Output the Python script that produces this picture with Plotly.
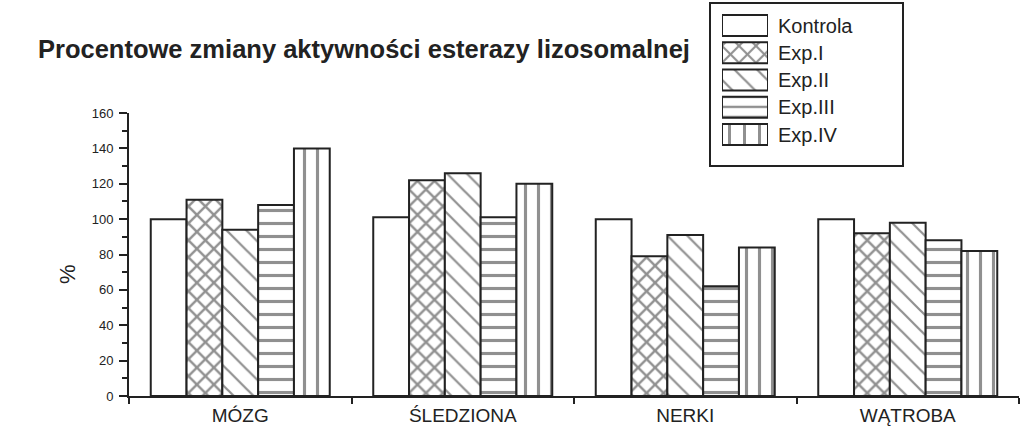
import plotly.graph_objects as go

W, H = 1023, 444

categories = ["MÓZG", "ŚLEDZIONA", "NERKI", "WĄTROBA"]
series_names = ["Kontrola", "Exp.I", "Exp.II", "Exp.III", "Exp.IV"]
kontrola = [100, 101, 100, 100]
exp_i = [111, 122, 79, 92]
exp_ii = [94, 126, 91, 98]
exp_iii = [108, 101, 62, 88]
exp_iv = [140, 120, 84, 82]
y_tick_vals = [0, 20, 40, 60, 80, 100, 120, 140, 160]

title_text = "Procentowe zmiany aktywności esterazy lizosomalnej"
y_label = "%"

values = [kontrola, exp_i, exp_ii, exp_iii, exp_iv]
patterns = ["", "x", "\\", "-", "|"]
pat_sizes = [8, 12, 14, 13, 13]
pat_solid = [0.1, 0.36, 0.16, 0.24, 0.24]
INK = "#222222"
FONT = "Liberation Sans, Arial, sans-serif"


def px(x):
    return x / W


def py(y):
    return 1 - y / H


fig = go.Figure()
for name, vals, pat, ps, so in zip(series_names, values, patterns, pat_sizes, pat_solid):
    fig.add_trace(go.Bar(
        x=categories, y=vals, name=name,
        marker=dict(color="white", line=dict(color=INK, width=2),
                    pattern=dict(shape=pat, fgcolor=INK, bgcolor="white",
                                 size=ps, solidity=so)),
        showlegend=False,
    ))

# custom legend swatches
fig.add_trace(go.Bar(
    x=[1] * len(series_names), y=series_names, orientation="h",
    xaxis="x2", yaxis="y2", width=0.77, showlegend=False,
    marker=dict(color="white", line=dict(color=INK, width=2),
                pattern=dict(shape=patterns, fgcolor=INK, bgcolor="white",
                             size=[8, 12, 16, 10, 15],
                             solidity=[0.1, 0.32, 0.14, 0.24, 0.2])),
))

fig.update_layout(
    width=W, height=H,
    margin=dict(l=0, r=0, t=0, b=0, autoexpand=False),
    paper_bgcolor="white", plot_bgcolor="white",
    showlegend=False,
    barmode="group", bargap=0.1955, bargroupgap=0,
    font=dict(family=FONT, color=INK),
    xaxis=dict(domain=[px(129), px(1019)], range=[-0.5, 3.5], automargin=False,
               showline=True, linewidth=2, linecolor=INK,
               ticks="outside", ticklen=6, tickwidth=2, tickcolor=INK,
               tickson="boundaries", showgrid=False, zeroline=False,
               tickfont=dict(size=19, color=INK), ticklabelstandoff=1),
    yaxis=dict(domain=[py(396), py(113)], range=[0, 160], automargin=False,
               showline=True, linewidth=2, linecolor=INK,
               tickmode="array", tickvals=y_tick_vals,
               ticks="outside", ticklen=8, tickwidth=2, tickcolor=INK,
               minor=dict(dtick=10, ticks="outside", ticklen=5, tickwidth=1.5,
                          tickcolor=INK, showgrid=False),
               showgrid=False, zeroline=False,
               tickfont=dict(size=13, color=INK), ticklabelstandoff=3),
    xaxis2=dict(domain=[px(722), px(768)], range=[0, 1], anchor="y2",
                automargin=False, visible=False, fixedrange=True),
    yaxis2=dict(domain=[py(148.1), py(11.9)], range=[4.5, -0.5], anchor="x2",
                automargin=False, type="category", visible=False, fixedrange=True),
    shapes=[dict(type="rect", xref="paper", yref="paper",
                 x0=px(710), x1=px(903), y0=py(166), y1=py(3),
                 line=dict(color=INK, width=2), fillcolor="rgba(0,0,0,0)")],
)

annotations = [
    dict(text="<b>" + title_text + "</b>", x=px(36), y=py(49), xref="paper", yref="paper",
         xanchor="left", yanchor="middle", showarrow=False,
         font=dict(size=25.5, color=INK, family=FONT)),
    dict(text=y_label, x=px(67), y=py(274), xref="paper", yref="paper",
         xanchor="center", yanchor="middle", showarrow=False, textangle=-90,
         font=dict(size=22, color=INK, family=FONT)),
]
row_centers = [25.5, 52.7, 80.0, 107.2, 134.5]
for name, yc in zip(series_names, row_centers):
    annotations.append(dict(text=name, x=px(776), y=py(yc), xref="paper", yref="paper",
                            xanchor="left", yanchor="middle", showarrow=False,
                            font=dict(size=20, color=INK, family=FONT)))
fig.update_layout(annotations=annotations)

fig.write_html("out.html")
